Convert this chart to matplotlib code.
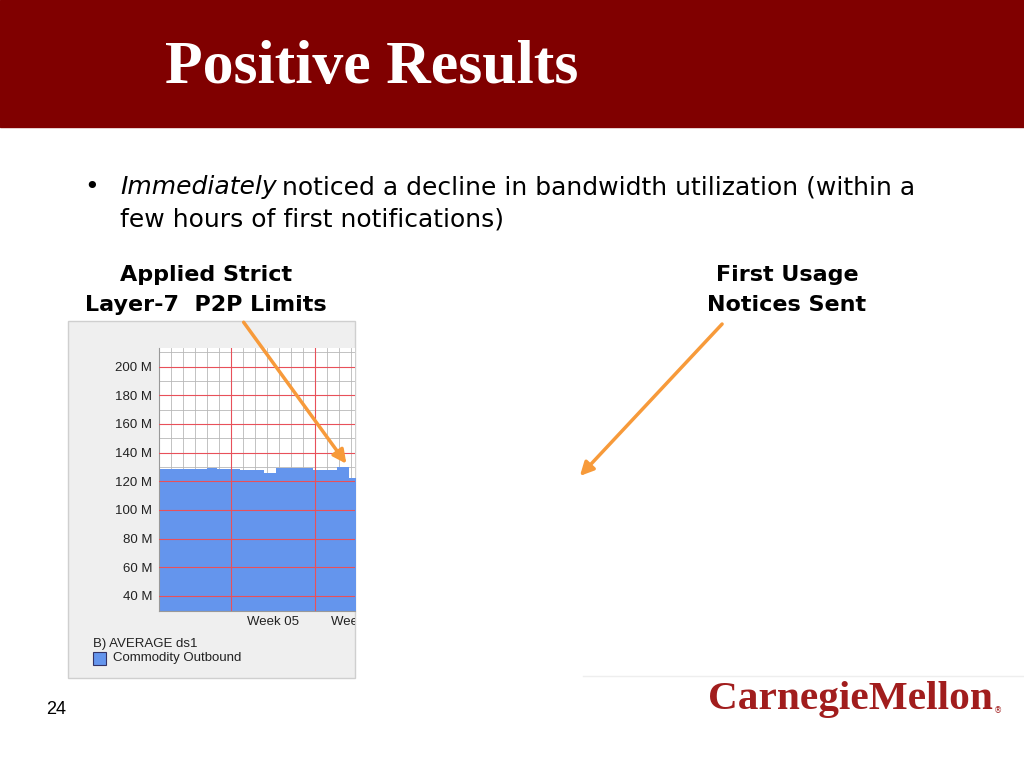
import matplotlib
matplotlib.use("Agg")
import matplotlib.pyplot as plt
from matplotlib.patches import Rectangle, FancyArrowPatch

# traffic, days from left edge of the plot
days = [0, 4.0, 4.0, 4.8, 4.8, 6.75, 6.75, 8.75, 8.75, 9.7, 9.7, 12.8, 12.8, 14.8, 14.8, 15.8, 15.8, 16.6]
traffic = [128.8, 128.8, 129.5, 129.5, 128.8, 128.8, 128.0, 128.0, 126.0, 126.0, 129.5, 129.5, 128.0, 128.0, 130.3, 130.3, 122.0, 122.0]
y_ticks = [40, 60, 80, 100, 120, 140, 160, 180, 200]
week_days = [6, 13]
week_labels = ["Week 05", "Week 06"]

W, H = 1024, 768
fig = plt.figure(figsize=(W / 100, H / 100), dpi=100)
r = fig.canvas.get_renderer()


def fx(x):
    return x / W


def fy(y):
    return 1 - y / H


# title bar
fig.patches.append(Rectangle((0, fy(127)), 1, 127 / H, transform=fig.transFigure,
                             color="#800000", zorder=-2))
fig.text(fx(165), fy(68), "Positive Results", color="white", fontsize=44.5,
         family="Liberation Serif", weight="bold", va="center", ha="left")

# bullet
sans = "DejaVu Sans"
fig.text(fx(84), fy(187), "\u2022", fontsize=18, family=sans, va="center")
t1 = fig.text(fx(120), fy(187), "Immediately", fontsize=18, family=sans,
              style="italic", va="center")
bb = t1.get_window_extent(r)
fig.text(bb.x1 / W + fx(5), fy(187), "noticed a decline in bandwidth utilization (within a",
         fontsize=18, family=sans, va="center")
fig.text(fx(120), fy(220), "few hours of first notifications)", fontsize=18,
         family=sans, va="center")

fig.text(fx(206), fy(290), "Applied Strict\nLayer-7  P2P Limits", fontsize=16,
         family=sans, weight="bold", ha="center", va="center", linespacing=1.6)
fig.text(fx(787), fy(290), "First Usage\nNotices Sent", fontsize=16,
         family=sans, weight="bold", ha="center", va="center", linespacing=1.6)

# graph panel
panel = Rectangle((fx(68), fy(678)), fx(355 - 68), (678 - 321) / H,
                  transform=fig.transFigure, facecolor="#efefef",
                  edgecolor="#cfcfcf", lw=1, zorder=-1)
fig.patches.append(panel)
clip = Rectangle((fx(60), fy(690)), fx(355 - 60), 380 / H, transform=fig.transFigure)

ax = fig.add_axes([fx(159), fy(611), fx(355 - 159), (611 - 348) / H])
ax.set_xlim(0, 16.3)
ax.set_ylim(29.5, 213)
ax.set_facecolor("white")

# minor grid under the data
for d in range(1, 17):
    ax.axvline(d, color="#b8b8b8", lw=0.6, zorder=1)
for v in range(30, 220, 10):
    ax.axhline(v, color="#b8b8b8", lw=0.6, zorder=1)

ax.fill_between(days, 0, traffic, color="#6495ED", lw=0, zorder=2)

for v in y_ticks:
    ax.axhline(v, color="#e8505a", lw=0.8, zorder=3)
for d in week_days:
    ax.axvline(d, color="#e8505a", lw=0.8, zorder=3)

lab_font = "Liberation Sans"
ax.set_yticks(y_ticks)
ax.set_yticklabels([f"{v} M" for v in y_ticks], fontsize=9.5, color="#222222",
                   family=lab_font)
ax.tick_params(axis="y", length=0, pad=5)
ax.set_xticks([])
for s in ax.spines.values():
    s.set_visible(False)
ax.spines["left"].set_visible(True)
ax.spines["left"].set_color("#999999")
ax.spines["bottom"].set_visible(True)
ax.spines["bottom"].set_color("#999999")

for d, lab in zip(week_days, week_labels):
    xpix = 159 + (d + 3.5) * (355 - 159) / 16.3
    t = fig.text(fx(xpix), fy(622), lab, ha="center", va="center", fontsize=9.5,
                 color="#222222", family=lab_font)
    t.set_clip_on(True)
    t.set_clip_path(clip)

fig.text(fx(93), fy(644), "B) AVERAGE ds1", fontsize=9.5, color="#222222", va="center",
         family=lab_font)
fig.patches.append(Rectangle((fx(93), fy(665)), fx(13), 13 / H, transform=fig.transFigure,
                             facecolor="#6495ED", edgecolor="#333366", lw=0.8))
fig.text(fx(113), fy(658), "Commodity Outbound", fontsize=9.5, color="#222222", va="center",
         family=lab_font)

# arrows
for (x0, y0), (x1, y1) in [((242, 320), (348, 466)), ((724, 322), (578, 478))]:
    fig.patches.append(FancyArrowPatch((fx(x0), fy(y0)), (fx(x1), fy(y1)),
                                       transform=fig.transFigure, arrowstyle="-|>",
                                       mutation_scale=20, color="#f79a3a", lw=2.5, zorder=5))

fig.lines.append(plt.Line2D([fx(583), 1], [fy(676), fy(676)], transform=fig.transFigure,
                            color="#eeeeee", lw=1))

fig.text(fx(46), fy(710), "24", fontsize=13, family="Liberation Sans", va="center")
logo = fig.text(fx(708), fy(700), "CarnegieMellon", fontsize=30, family="Liberation Serif",
                weight="bold", color="#a11d1d", va="center", ha="left")
bb = logo.get_window_extent(r)
logo.set_fontsize(30 * 284 / bb.width)
bb = logo.get_window_extent(r)
fig.text(bb.x1 / W + fx(1), fy(711), "\u00ae", fontsize=6, color="#a11d1d", va="center")

fig.savefig("out.png", dpi=100)
